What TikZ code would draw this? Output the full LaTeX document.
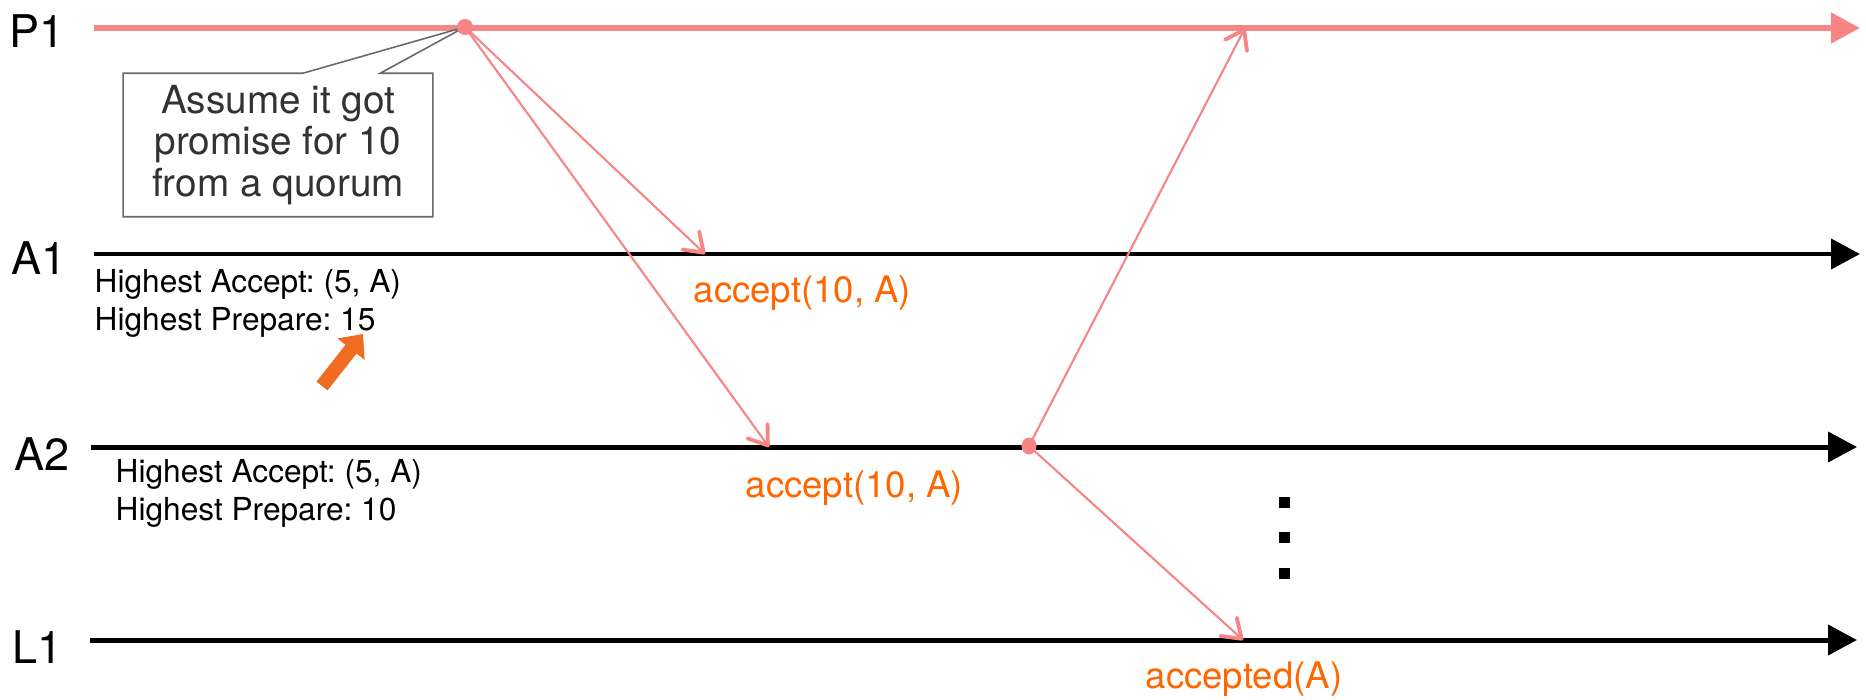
\documentclass[tikz,border=0pt]{standalone}
\usepackage{fontspec}
\setmainfont{TeX Gyre Heros}
\usetikzlibrary{arrows.meta,calc}
\definecolor{MsgPink}{RGB}{247,133,133}
\definecolor{NoteGray}{RGB}{105,105,105}
\definecolor{NoteText}{RGB}{50,50,50}
\definecolor{TextOrange}{RGB}{255,102,0}
\definecolor{HintOrange}{RGB}{240,108,34}
\frenchspacing

\begin{document}
\begin{tikzpicture}[x=0.01cm,y=-0.01cm,
    lane/.style={line width=1.42pt,-{Triangle[length=8.2pt,width=8.4pt]}},
    msg/.style={MsgPink,line width=0.6pt,-{Straight Barb[length=5pt,width=7pt,line width=1.1pt,round]}},
    who/.style={font=\fontsize{12.8}{15}\selectfont},
    memo/.style={font=\fontsize{9}{10.8}\selectfont,align=left,anchor=base west,inner sep=0pt},
    msglabel/.style={TextOrange,font=\fontsize{10.4}{12}\selectfont,anchor=base west,inner sep=0pt}]
  \useasboundingbox (0,0) rectangle (1866,700);

  % process names
  \node[who] (p1) at (37,31) {P1};
  \node[who] (a1) at (39,258) {A1};
  \node[who] (a2) at (42,454) {A2};
  \node[who] (l1) at (38,647) {L1};

  % time lines
  \draw[lane,MsgPink,line width=1.56pt] (94,28) -- (1860,28);
  \draw[lane] (94,254) -- (1860,254);
  \draw[lane] (91,447) -- (1857,447);
  \draw[lane] (90,640) -- (1857,640);

  % send / receive points
  \coordinate (p1send) at (465,27);
  \coordinate (a1recv) at (705,254);
  \coordinate (a2recv) at (769,447);
  \coordinate (a2send) at (1029,446);
  \coordinate (p1recv) at (1245,28);
  \coordinate (l1recv) at (1243,640);

  % note on the proposer
  \node[font=\fontsize{11}{11.9}\selectfont,text=NoteText,align=center,
        minimum width=3.08cm,minimum height=1.42cm,inner sep=0pt] (note) at (278,145)
    {Assume it got\\promise for 10\\from a quorum};
  \draw[NoteGray,line width=0.45pt] ($(note.north west)!.58!(note.north east)$)
    -- (note.north west) -- (note.south west) -- (note.south east) -- (note.north east)
    -- ($(note.north west)!.83!(note.north east)$) -- (p1send) -- cycle;

  % messages
  \draw[msg] (p1send) -- (a1recv);
  \draw[msg] (p1send) -- (a2recv);
  \draw[msg] (a2send) -- (p1recv);
  \draw[msg] (a2send) -- (l1recv);
  \fill[MsgPink] (p1send) circle (0.08cm);
  \fill[MsgPink] (a2send) ellipse (0.075cm and 0.085cm);

  \node[msglabel] (acc1) at (693,302) {accept(10, A)};
  \node[msglabel] (acc2) at (745,497) {accept(10, A)};
  \node[msglabel] (done) at (1145,688) {accepted(A)};

  % acceptor state
  \node[memo] (a1state) at (94,330) {Highest Accept: (5, A)\\Highest Prepare: 15};
  \node[memo] (a2state) at (115,520) {Highest Accept: (5, A)\\Highest Prepare: 10};

  \coordinate (hintfrom) at (322,386);
  \coordinate (hintto) at (363,334);
  \draw[HintOrange,line width=4pt,-{Triangle[length=5.5pt,width=9.5pt]}] (hintfrom) -- (hintto);

  % more learners
  \foreach \y in {502,537,573}
    \fill (1279,\y-5.5) rectangle ++(11,11);
\end{tikzpicture}
\end{document}
